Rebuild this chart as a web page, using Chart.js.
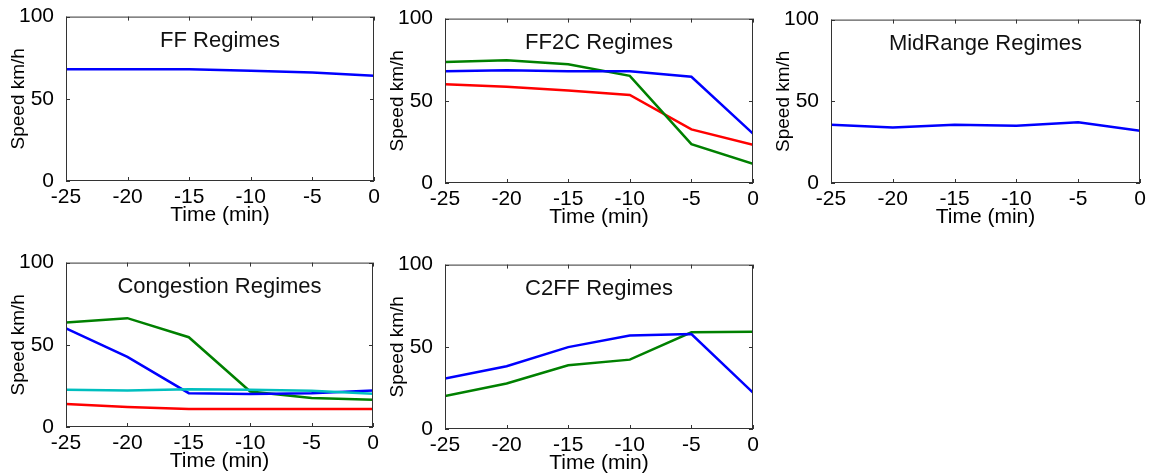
<!DOCTYPE html>
<html>
<head>
<meta charset="utf-8">
<title>Speed regimes</title>
<script src="https://cdn.jsdelivr.net/npm/chart.js@4.4.1/dist/chart.umd.min.js"></script>
<style>
  body { margin: 0; background: #fff; }
  #wrap { position: relative; width: 1154px; height: 474px; overflow: hidden; }
  .panel { position: absolute; }
</style>
</head>
<body>
<div id="wrap"></div>
<script>
// time axis (minutes before now) and tick labels
const times = [-25, -20, -15, -10, -5, 0];
const xTicks = [-25, -20, -15, -10, -5, 0];
const yTicks = [0, 50, 100];

// speeds in km/h
const ffBlue = [68, 68, 68, 67, 66, 64];

const ff2cBlue = [68, 68.6, 68, 68, 64.6, 30];
const ff2cGreen = [73.6, 74.6, 72.2, 65.2, 23.6, 11.6];
const ff2cRed = [60, 58.6, 56.2, 53.6, 32.6, 23.2];

const midBlue = [35.6, 34, 35.6, 35, 37.2, 32];

const congGreen = [63.6, 66.2, 54.6, 21.6, 17.6, 16.6];
const congBlue = [60, 42.6, 20.6, 20, 20.6, 22.2];
const congCyan = [22.6, 22.2, 23, 22.6, 22, 20.2];
const congRed = [14, 12.2, 11, 11, 11, 11];

const c2ffBlue = [30.7, 38.2, 49.8, 56.8, 57.8, 22.1];
const c2ffGreen = [20, 27.7, 38.8, 42.2, 58.8, 59.2];

const BLUE = '#0000ff', GREEN = '#008000', RED = '#ff0000', CYAN = '#00bfbf';
const FONT = '"Liberation Sans", Arial, sans-serif';

// plot box of each panel: left, top, right, bottom
const panels = [
    { title: 'FF Regimes', box: [66, 15, 374, 181], series: [[ffBlue, BLUE]] },
    { title: 'FF2C Regimes', box: [445, 17, 753, 183], series: [[ff2cBlue, BLUE], [ff2cGreen, GREEN], [ff2cRed, RED]] },
    { title: 'MidRange Regimes', box: [831, 18, 1140, 183], series: [[midBlue, BLUE]] },
    { title: 'Congestion Regimes', box: [66, 261, 373, 427], series: [[congCyan, CYAN], [congRed, RED], [congBlue, BLUE], [congGreen, GREEN]] },
    { title: 'C2FF Regimes', box: [445, 263, 753, 429], series: [[c2ffBlue, BLUE], [c2ffGreen, GREEN]] }
];

const LEFT = 66, TOP = 15, RIGHT = 14, BOTTOM = 50;

// matlab-like frame with inward ticks and a title inside the axes
const frame = {
    id: 'frame',
    afterDatasetsDraw(chart, args, opts) {
        const { ctx, chartArea: a, scales: { x, y } } = chart;
        ctx.save();
        ctx.strokeStyle = '#333';
        ctx.lineWidth = 1;
        ctx.beginPath();
        x.ticks.forEach(t => {
            const px = Math.round(x.getPixelForValue(t.value)) + 0.5;
            ctx.moveTo(px, a.bottom); ctx.lineTo(px, a.bottom - 4);
            ctx.moveTo(px, a.top); ctx.lineTo(px, a.top + 4);
        });
        y.ticks.forEach(t => {
            const py = Math.round(y.getPixelForValue(t.value)) + 0.5;
            ctx.moveTo(a.left, py); ctx.lineTo(a.left + 4, py);
            ctx.moveTo(a.right, py); ctx.lineTo(a.right - 4, py);
        });
        ctx.stroke();
        ctx.strokeRect(a.left + 0.5, a.top + 0.5, a.width - 1, a.height - 1);

        ctx.fillStyle = '#111';
        ctx.font = '22px ' + FONT;
        ctx.textAlign = 'center';
        ctx.textBaseline = 'middle';
        ctx.fillText(opts.text, (a.left + a.right) / 2, a.top + 24);
        ctx.restore();
    }
};

const wrap = document.getElementById('wrap');

panels.forEach(p => {
    const [l, t, r, b] = p.box;
    const canvas = document.createElement('canvas');
    canvas.className = 'panel';
    canvas.width = (r - l) + LEFT + RIGHT;
    canvas.height = (b - t) + TOP + BOTTOM;
    canvas.style.left = (l - LEFT) + 'px';
    canvas.style.top = (t - TOP) + 'px';
    wrap.appendChild(canvas);

    new Chart(canvas, {
        type: 'line',
        data: {
            datasets: p.series.map(([vals, color]) => ({
                data: times.map((tm, i) => ({ x: tm, y: vals[i] })),
                borderColor: color,
                borderWidth: 2.5,
                pointRadius: 0,
                tension: 0,
                fill: false
            }))
        },
        options: {
            responsive: false,
            devicePixelRatio: 1,
            animation: false,
            layout: { padding: { left: 0, top: TOP, right: RIGHT, bottom: 0 } },
            plugins: {
                legend: { display: false },
                tooltip: { enabled: false },
                frame: { text: p.title }
            },
            scales: {
                x: {
                    type: 'linear',
                    min: -25,
                    max: 0,
                    afterBuildTicks: s => { s.ticks = xTicks.map(v => ({ value: v })); },
                    afterFit: s => { s.height = BOTTOM; },
                    grid: { display: false },
                    border: { display: false },
                    ticks: { color: '#000', padding: -4, maxRotation: 0, font: { family: FONT, size: 21 } },
                    title: { display: true, text: 'Time (min)', color: '#000', padding: { top: 0, bottom: 3 }, font: { family: FONT, size: 21 } }
                },
                y: {
                    min: 0,
                    max: 100,
                    afterBuildTicks: s => { s.ticks = yTicks.map(v => ({ value: v })); },
                    afterFit: s => { s.width = LEFT; },
                    grid: { display: false },
                    border: { display: false },
                    ticks: { color: '#000', padding: 4, font: { family: FONT, size: 21 } },
                    title: { display: true, text: 'Speed km/h', color: '#000', padding: { top: 7, bottom: 0 }, font: { family: FONT, size: 19 } }
                }
            }
        },
        plugins: [frame]
    });
});
</script>
</body>
</html>
